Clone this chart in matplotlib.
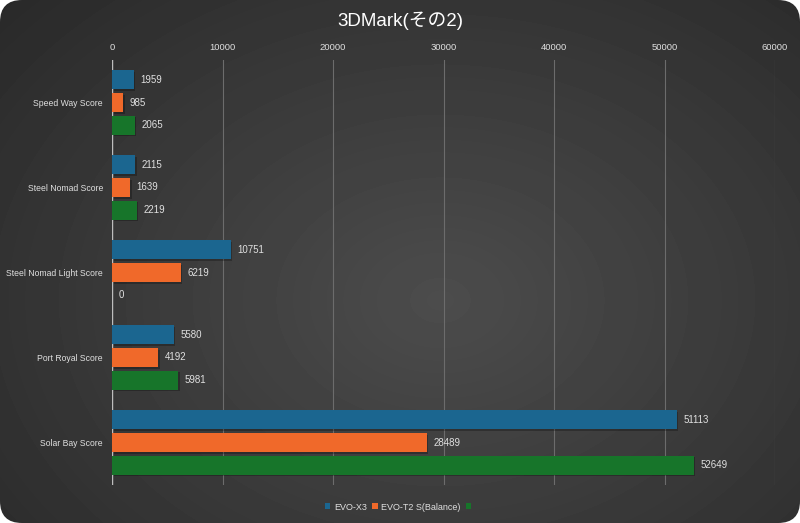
import numpy as np
import matplotlib
matplotlib.use("Agg")
import matplotlib.pyplot as plt
from matplotlib.patches import FancyBboxPatch, Patch
import matplotlib.patheffects as pe

plt.rcParams['font.family'] = ['Liberation Sans', 'Noto Sans CJK JP', 'DejaVu Sans']

title = "3DMark(その2)"
categories = ["Speed Way Score", "Steel Nomad Score", "Steel Nomad Light Score",
              "Port Royal Score", "Solar Bay Score"]
series_names = ["EVO-X3", "EVO-T2 S(Balance)", ""]
evo_x3 = [1959, 2115, 10751, 5580, 51113]
evo_t2s = [985, 1639, 6219, 4192, 28489]
third = [2065, 2219, 0, 5981, 52649]
xticks = [0, 10000, 20000, 30000, 40000, 50000, 60000]

colors = ["#1b6690", "#f0692a", "#17752a"]
text_col = "#e0e0e0"

fig = plt.figure(figsize=(8, 5.23), dpi=100)
fig.patch.set_facecolor("white")

# background: soft radial gradient, rounded corners
bg = fig.add_axes([0, 0, 1, 1])
bg.set_xlim(0, 800)
bg.set_ylim(523, 0)
bg.axis("off")
yy, xx = np.mgrid[0:523, 0:800]
r = np.sqrt(((xx - 440) / 600.0) ** 2 + ((yy - 300) / 450.0) ** 2)
shade = np.clip(0.30 - 0.14 * r, 0.15, 0.30)
img = bg.imshow(shade, cmap="gray", vmin=0, vmax=1, extent=(0, 800, 523, 0),
                interpolation="bilinear")
box = FancyBboxPatch((0, 0), 800, 523, boxstyle="round,pad=0,rounding_size=22",
                     transform=bg.transData, facecolor="none", edgecolor="none")
bg.add_patch(box)
img.set_clip_path(box)

ax = fig.add_axes([112 / 800, 1 - 485 / 523, (775 - 112) / 800, (485 - 60) / 523])
ax.set_facecolor("none")

y = np.arange(len(categories))
h = 0.224
off = 0.265
shadow = [pe.SimplePatchShadow(offset=(1.2, -1.2), shadow_rgbFace="black", alpha=0.25), pe.Normal()]
for j, vals in enumerate([evo_x3, evo_t2s, third]):
    pos = y + (j - 1) * off
    bars = ax.barh(pos, vals, height=h, color=colors[j], zorder=3)
    for b in bars:
        b.set_path_effects(shadow)
    for p, v in zip(pos, vals):
        ax.text(v + 600, p, str(v), va="center", ha="left", fontsize=7,
                color=text_col, zorder=4)

ax.set_xlim(0, 60000)
ax.set_ylim(len(categories) - 0.5, -0.5)
ax.set_xticks(xticks)
ax.set_xticklabels([str(t) for t in xticks])
ax.xaxis.tick_top()
ax.tick_params(axis="x", length=0, pad=6, labelsize=6.8, labelcolor=text_col)
ax.set_yticks(y)
ax.set_yticklabels(categories)
ax.tick_params(axis="y", length=0, pad=6.5, labelsize=6.2, labelcolor=text_col)
for s in ax.spines.values():
    s.set_visible(False)
ax.grid(axis="x", color="#6c6c6c", lw=0.8, zorder=0)
ax.axvline(0, color="#bdbdbd", lw=1, zorder=2)

fig.text(0.5, 1 - 21 / 523, title, ha="center", va="center", fontsize=13.5,
         color="white")

handles = [Patch(facecolor=c) for c in colors]
fig.legend(handles, series_names, loc="center", bbox_to_anchor=(0.5, 1 - 507 / 523),
           ncol=3, frameon=False, fontsize=6.5, labelcolor=text_col,
           handlelength=0.6, handleheight=0.6, handletextpad=0.4, columnspacing=0.6)

fig.savefig("out.png", dpi=100)
